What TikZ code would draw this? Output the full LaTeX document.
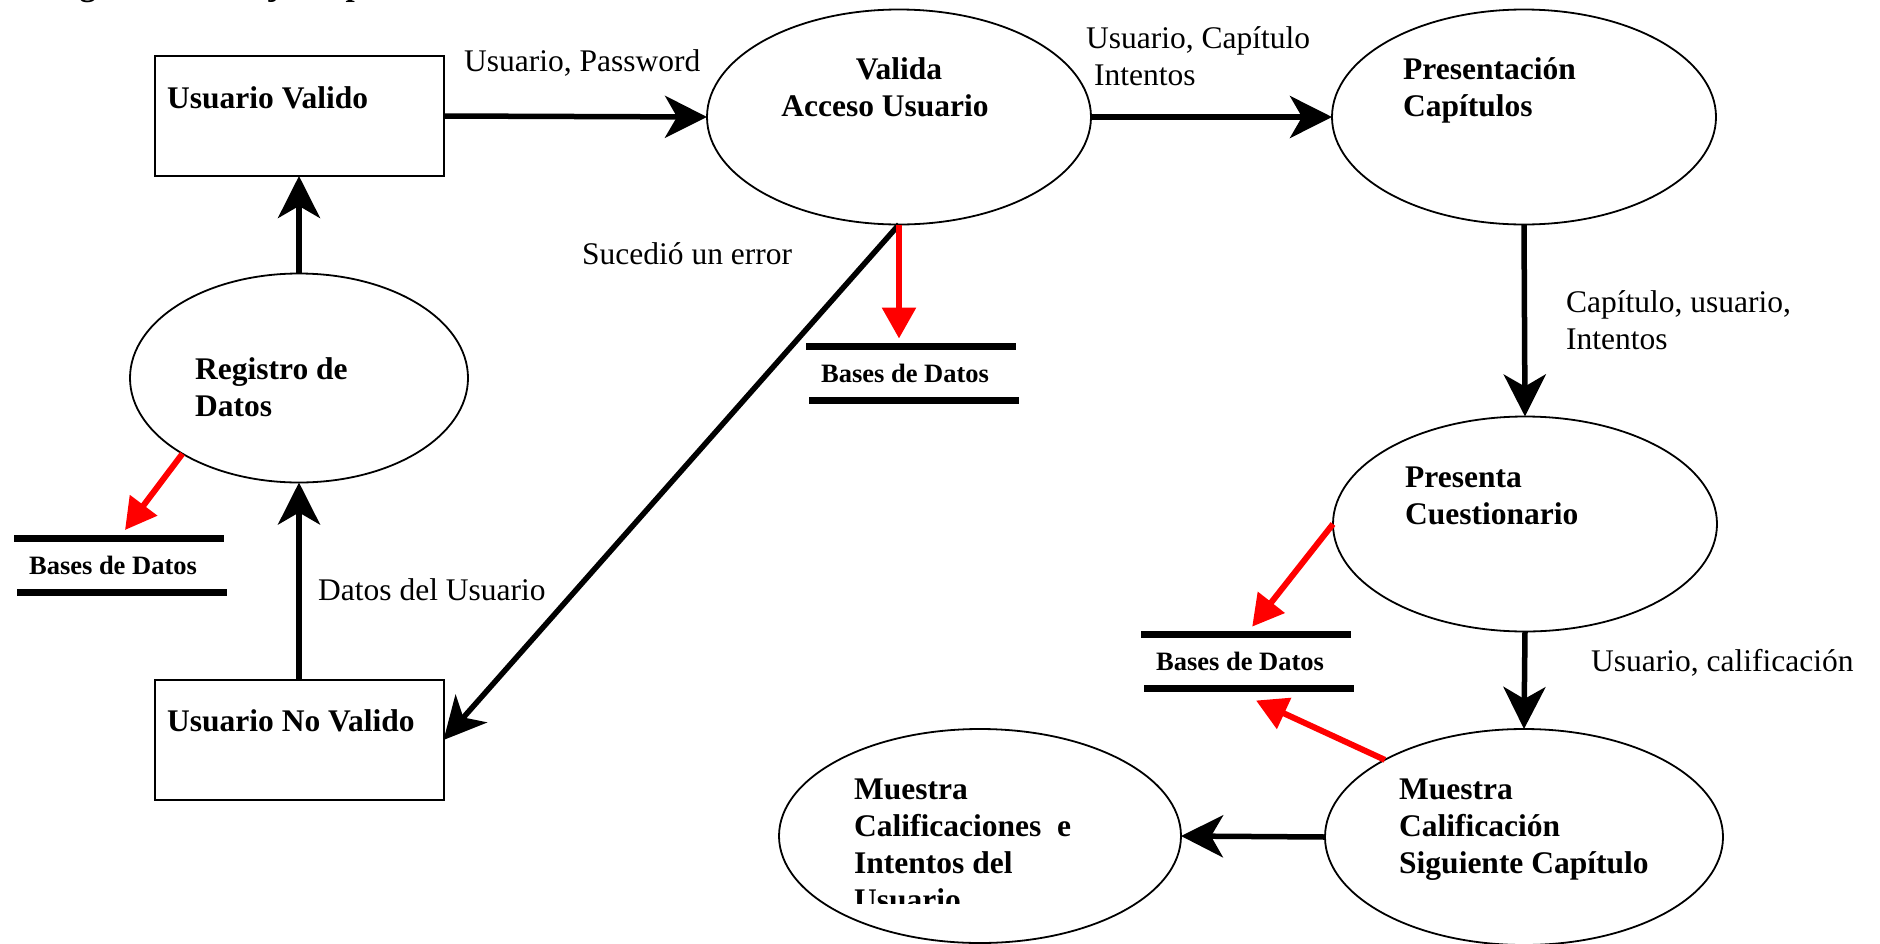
\documentclass[tikz,border=0pt]{standalone}
\usepackage{fontspec}
\setmainfont{Liberation Serif}
\usetikzlibrary{arrows.meta,shapes.geometric}
\begin{document}
\begin{tikzpicture}[x=1pt,y=-1pt,
  proc/.style={ellipse, draw, line width=1.8pt, inner sep=0pt, outer sep=0pt},
  entity/.style={rectangle, draw, line width=2pt, inner sep=0pt, outer sep=0pt, minimum width=289pt, minimum height=120pt},
  dbstore/.style={inner sep=0pt, outer sep=0pt, minimum width=210pt, minimum height=54pt, font=\bfseries\fontsize{26.5}{32}\selectfont},
  dbline/.style={line width=7pt},
  lbl/.style={inner sep=0pt, anchor=base west, font=\fontsize{31.5}{37}\selectfont},
  mlbl/.style={inner sep=0pt, anchor=north west, align=left, font=\fontsize{31.5}{37}\selectfont},
  blbl/.style={inner sep=0pt, anchor=base west, font=\bfseries\fontsize{31.5}{37}\selectfont},
  bmlbl/.style={inner sep=0pt, anchor=north west, align=left, font=\bfseries\fontsize{31.5}{37}\selectfont},
  flow/.style={line width=5.5pt, -{Stealth[length=42pt,width=42pt,inset=12pt]}},
  redflow/.style={draw=red, line width=6pt, -{Triangle[length=31pt,width=33pt]}}
]
\useasboundingbox (0,0) rectangle (1880,943);
\clip (0,0) rectangle (1880,943);

% title (cut off at the top edge)
\node[inner sep=0pt, anchor=base west, font=\bfseries\fontsize{33}{40}\selectfont] (title) at (30,-5) {Diagrama de Flujo de procesos};

% entities
\node[entity] (uv) at (299,116) {};
\node[entity] (unv) at (299,740) {};

% processes
\node[proc, minimum width=384pt, minimum height=215pt] (valida) at (899,117) {};
\node[proc, minimum width=384pt, minimum height=215pt] (pres) at (1524,117) {};
\node[proc, minimum width=338pt, minimum height=209pt] (reg) at (299,378) {};
\node[proc, minimum width=384pt, minimum height=215pt] (cuest) at (1525,524) {};
\node[proc, minimum width=398pt, minimum height=216pt] (mcal) at (1524,837) {};
\node[proc, minimum width=402pt, minimum height=214pt] (mcals) at (980,836) {};

% data stores
\node[dbstore] (dbA) at (905,373.5) {Bases de Datos};
\draw[dbline] ([xshift=6pt]dbA.north west) -- ([xshift=6pt]dbA.north east);
\draw[dbline] ([xshift=9pt]dbA.south west) -- ([xshift=9pt]dbA.south east);
\node[dbstore] (dbB) at (113,565) {Bases de Datos};
\draw[dbline] ([xshift=6pt]dbB.north west) -- ([xshift=6pt]dbB.north east);
\draw[dbline] ([xshift=9pt]dbB.south west) -- ([xshift=9pt]dbB.south east);
\node[dbstore] (dbC) at (1240,661.5) {Bases de Datos};
\draw[dbline] ([xshift=6pt]dbC.north west) -- ([xshift=6pt]dbC.north east);
\draw[dbline] ([xshift=9pt]dbC.south west) -- ([xshift=9pt]dbC.south east);

% texts inside shapes
\node[blbl] (tuv) at (167,108) {Usuario Valido};
\node[blbl] (tunv) at (167,731) {Usuario No Valido};
\node[bmlbl, align=center, anchor=north] (tval) at (885,53) {\strut\hspace*{28pt}Valida\\Acceso Usuario};
\node[bmlbl] (tpres) at (1403,53) {\strut Presentación\\Capítulos};
\node[bmlbl] (treg) at (195,353) {\strut Registro de\\Datos};
\node[bmlbl] (tcue) at (1405,461) {\strut Presenta\\Cuestionario};
\node[bmlbl] (tmcal) at (1399,773) {\strut Muestra\\Calificación\\Siguiente Capítulo};
\begin{scope}
\clip (780,700) rectangle (1200,903);
\node[bmlbl] (tmcals) at (854,773) {\strut Muestra\\Calificaciones\ \ e\\Intentos del\\Usuario};
\end{scope}

% flow labels
\node[lbl] (lpw) at (464,71) {Usuario, Password};
\node[mlbl] (lcap) at (1086,22) {\strut Usuario, Capítulo\\\hspace*{8pt}Intentos};
\node[lbl] (lerr) at (582,264) {Sucedió un error};
\node[mlbl] (lint) at (1566,286) {\strut Capítulo, usuario,\\Intentos};
\node[lbl] (lcal) at (1591,671) {Usuario, calificación};
\node[lbl] (ldat) at (318,600) {Datos del Usuario};

% black flows
\draw[flow] (uv.east) -- (valida.west);
\draw[flow] (valida.east) -- (pres.west);
\draw[flow] (pres.south) -- (cuest.north);
\draw[flow] (cuest.south) -- (mcal.north);
\draw[flow] (mcal.west) -- (mcals.east);
\draw[flow] (reg.north) -- (uv.south);
\draw[flow] (unv.north) -- (reg.south);
\draw[flow] (valida.south) -- (unv.east);

% red flows to data stores
\draw[redflow, shorten >=8pt] (valida.south) -- (valida.south |- dbA.north);
\draw[redflow, shorten >=10pt] (reg.213) -- ([xshift=6pt]dbB.north);
\draw[redflow, shorten >=10pt] (cuest.west) -- ([xshift=6pt]dbC.north);
\draw[redflow] (mcal.151) -- ([xshift=16pt,yshift=-12pt]dbC.south);
\end{tikzpicture}
\end{document}
